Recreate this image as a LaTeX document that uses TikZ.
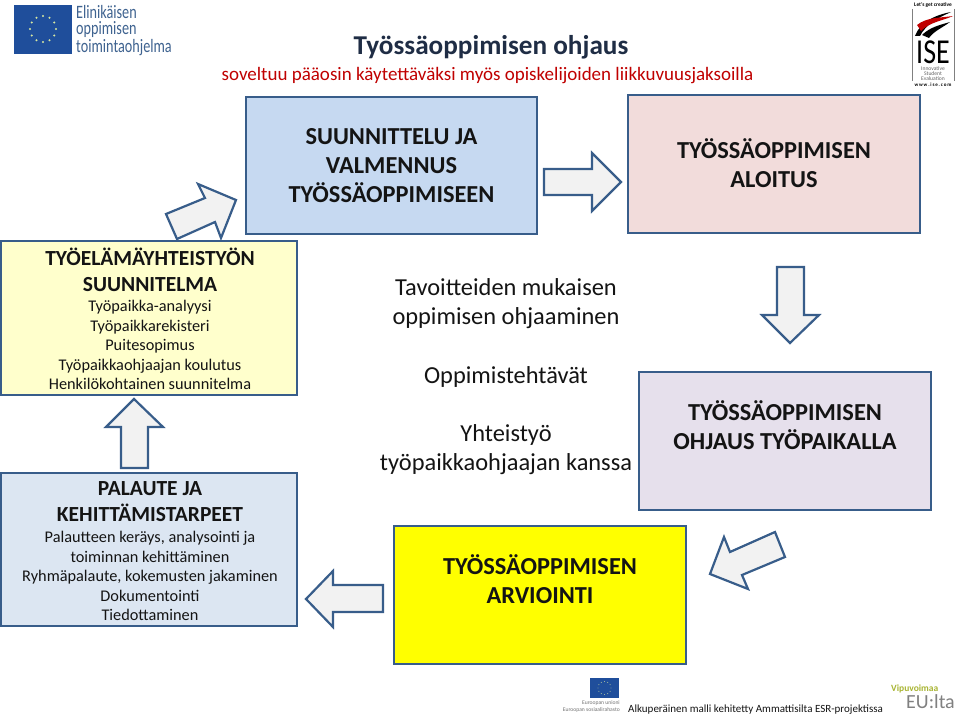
\documentclass[tikz,border=0pt]{standalone}
\usepackage{fontspec}
\setmainfont{Carlito}
\definecolor{edgeblue}{HTML}{385D8A}
\definecolor{arrowfill}{HTML}{F2F2F2}
\definecolor{planfill}{HTML}{C6D9F1}
\definecolor{startfill}{HTML}{F2DCDB}
\definecolor{paleyellow}{HTML}{FFFFCC}
\definecolor{paleblue}{HTML}{DCE6F2}
\definecolor{lilac}{HTML}{E6E0EC}
\definecolor{brightyellow}{HTML}{FFFF00}
\definecolor{titlecol}{HTML}{1F2D45}
\definecolor{inkcol}{HTML}{141414}
\definecolor{redcol}{HTML}{C00000}
\definecolor{euflag}{HTML}{1F4E9B}
\definecolor{starcol}{HTML}{D8E8A0}
\definecolor{logotext}{HTML}{3F6390}
\definecolor{olivecol}{HTML}{A9B533}
\newcommand{\hd}{\fontsize{24.4}{29.3}\selectfont\bfseries}
\newcommand{\hdb}{\fontsize{21.5}{26}\selectfont\bfseries}
\newcommand{\sm}{\fontsize{16.3}{19.6}\selectfont}
\tikzset{
  x=1pt,y=-1pt,
  stagebox/.style={draw=edgeblue,line width=2.6pt,minimum width=#1,inner sep=0pt,anchor=center},
  bigtxt/.style={font=\hd,align=center,text=inkcol,inner sep=0pt},
  headtxt/.style={font=\hdb,align=center,text=inkcol,inner sep=0pt},
  smalltxt/.style={font=\sm,align=center,text=inkcol,inner sep=0pt},
  midtxt/.style={font=\fontsize{24.4}{29.3}\selectfont,align=center,text=inkcol,inner sep=0pt},
  blockarrow/.style={draw=edgeblue,fill=arrowfill,line width=2.2pt,line join=miter},
  logotxt/.style={text=logotext,inner sep=0pt,anchor=west,font=\fontsize{18}{18}\selectfont}
}
\begin{document}
\begin{tikzpicture}
\useasboundingbox (0,0) rectangle (959,717);
\fill[white] (0,0) rectangle (959,717);
% boxes
\node[stagebox=291pt,minimum height=137pt,fill=planfill] (plan) at (391.5,165.5) {};
\node[stagebox=292pt,minimum height=138pt,fill=startfill] (start) at (774,164) {};
\node[stagebox=296pt,minimum height=154pt,fill=paleyellow] (work) at (149,318) {};
\node[stagebox=296pt,minimum height=153pt,fill=paleblue] (feedback) at (149,549.5) {};
\node[stagebox=292pt,minimum height=138pt,fill=lilac] (guide) at (785,441) {};
\node[stagebox=292pt,minimum height=138pt,fill=brightyellow] (assess) at (540,595) {};
% block arrows
\draw[blockarrow] (544,169)--(592,169)--(592,153)--(621,182)--(592,211)--(592,195)--(544,195)--cycle;
\draw[blockarrow] (777,267)--(804,267)--(804,315)--(819,315)--(790,343)--(762,315)--(777,315)--cycle;
\draw[blockarrow] (775,532)--(785,557)--(742,575)--(748,589)--(710,574)--(724,537)--(730,552)--cycle;
\draw[blockarrow] (306,599)--(333,571)--(333,585)--(383,585)--(383,612)--(333,612)--(333,627)--cycle;
\draw[blockarrow] (134,399)--(163,427)--(148,427)--(148,468)--(121,468)--(121,427)--(106,427)--cycle;
\draw[blockarrow] (166,214)--(205,198)--(198,184)--(236,200)--(221,238)--(215,222)--(177,239)--cycle;
% titles
\node[inner sep=0pt,text=titlecol,font=\fontsize{27.2}{30}\selectfont\bfseries] (title) at (491,47) {Työssäoppimisen ohjaus};
\node[inner sep=0pt,text=redcol,font=\fontsize{19}{22}\selectfont] (subtitle) at (487.5,75.5) {soveltuu pääosin käytettäväksi myös opiskelijoiden liikkuvuusjaksoilla};
% box texts
\node[bigtxt] (plantxt) at (391.5,165.5) {SUUNNITTELU JA\\VALMENNUS\\TYÖSSÄOPPIMISEEN};
\node[bigtxt] (starttxt) at (774,163.5) {TYÖSSÄOPPIMISEN\\ALOITUS};
\node[bigtxt] (guidetxt) at (785,425) {TYÖSSÄOPPIMISEN\\OHJAUS TYÖPAIKALLA};
\node[bigtxt] (assesstxt) at (540,579) {TYÖSSÄOPPIMISEN\\ARVIOINTI};
\node[headtxt] (workhead) at (150,269.5) {TYÖELÄMÄYHTEISTYÖN\\SUUNNITELMA};
\node[smalltxt] (workdetail) at (150,345) {Työpaikka-analyysi\\Työpaikkarekisteri\\Puitesopimus\\Työpaikkaohjaajan koulutus\\Henkilökohtainen suunnitelma};
\node[headtxt] (feedhead) at (150,502) {PALAUTE JA\\KEHITTÄMISTARPEET};
\node[smalltxt] (feeddetail) at (150,576) {Palautteen keräys, analysointi ja\\toiminnan kehittäminen\\Ryhmäpalaute, kokemusten jakaminen\\Dokumentointi\\Tiedottaminen};
% middle texts
\node[midtxt] (midA) at (506,303.5) {Tavoitteiden mukaisen\\oppimisen ohjaaminen};
\node[midtxt] (midB) at (506,376.5) {Oppimistehtävät};
\node[midtxt] (midC) at (506,449.5) {Yhteistyö\\työpaikkaohjaajan kanssa};
% EU lifelong learning logo
\fill[euflag] (14,5) rectangle (72,54);
\foreach \a in {0,30,...,330}
  \fill[starcol] ({43+13*cos(\a)},{29+13*sin(\a)}) circle (1.1pt);
\node[logotxt] (lla) at (76,12.5) {\scalebox{.79}[1.05]{Elinikäisen}};
\node[logotxt] (llb) at (76,30) {\scalebox{.79}[1.05]{oppimisen}};
\node[logotxt] (llc) at (76,48) {\scalebox{.79}[1.05]{toimintaohjelma}};
% ISE logo
\draw[gray,line width=.7pt] (912.5,9)--(912.5,81) (954,9)--(954,81);
\node[inner sep=0pt,font=\fontsize{5.4}{6}\selectfont\bfseries] (isetop) at (933,4.5) {Let's get creative};
\fill[black] (915,36) .. controls (920,22) and (935,15) .. (951,12) .. controls (938,18) and (926,24) .. (920,36) -- cycle;
\fill[redcol] (917,25) .. controls (927,17) and (940,18) .. (953,16) .. controls (942,21) and (930,22) .. (921,31) -- cycle;
\fill[black] (922,35) .. controls (930,27) and (940,25) .. (950,22) .. controls (942,28) and (934,31) .. (929,38) -- cycle;
\node[inner sep=0pt,font=\fontsize{35}{35}\selectfont] (isemain) at (933,52) {\scalebox{.8}[1]{ISE}};
\node[inner sep=0pt,align=center,text=black!60,font=\fontsize{5.6}{5}\selectfont] (isesub) at (933,74) {Innovative\\Student\\Evaluation};
\node[inner sep=0pt,font=\fontsize{5}{6}\selectfont\bfseries] (iseweb) at (933,84.5) {w\,w\,w\,.\,i\,s\,e\,.\,c\,o\,m};
% footer logos
\fill[euflag] (590,678) rectangle (619,698);
\foreach \a in {0,30,...,330}
  \fill[starcol] ({604.5+6.5*cos(\a)},{688+6.5*sin(\a)}) circle (.45pt);
\node[inner sep=0pt,anchor=east,text=black!55,font=\fontsize{5.6}{6}\selectfont] (euA) at (620,703) {Euroopan unioni};
\node[inner sep=0pt,anchor=east,text=black!55,font=\fontsize{5.6}{6}\selectfont] (euB) at (620,710) {Euroopan sosiaalirahasto};
\node[inner sep=0pt,anchor=west,text=inkcol,font=\fontsize{11}{13}\selectfont] (credit) at (628,710) {Alkuperäinen malli kehitetty Ammattisilta ESR-projektissa};
\node[inner sep=0pt,anchor=west,text=olivecol,font=\fontsize{9.5}{10}\selectfont\bfseries] (vipu) at (891,689) {Vipuvoimaa};
\node[inner sep=0pt,anchor=east,text=black!50,font=\fontsize{20}{20}\selectfont] (eulta) at (955,702) {EU:lta};
\end{tikzpicture}
\end{document}
